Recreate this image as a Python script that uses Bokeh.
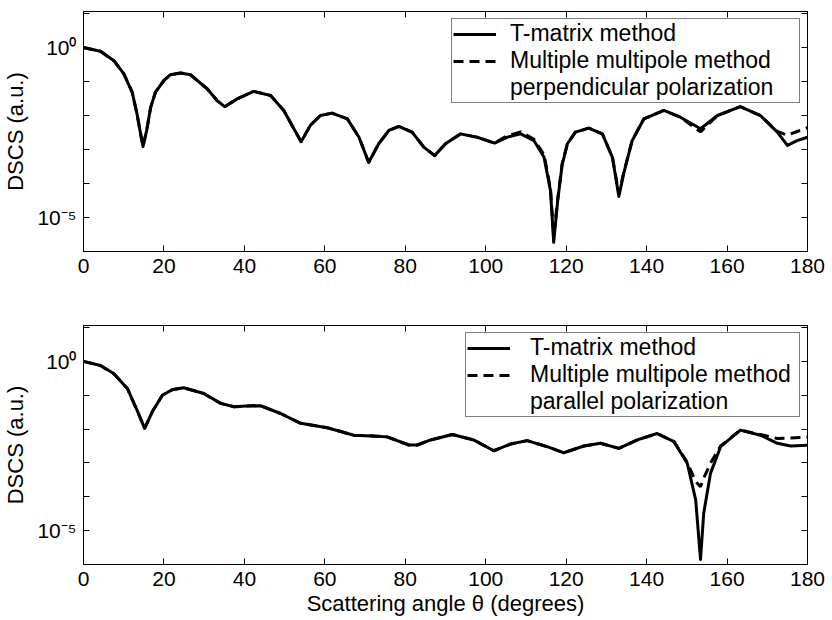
import numpy as np
from bokeh.plotting import figure
from bokeh.layouts import column
from bokeh.models import (Range1d, FixedTicker, LinearAxis, LogAxis, Legend, LegendItem,
                          CustomJSTickFormatter)
from bokeh.embed import file_html
from bokeh.resources import INLINE

# ---------------- data (angle in degrees, log10 of DSCS) ----------------
top_tm_angle = [0, 4.2, 7.5, 10.0, 12.1, 13.3, 14.2, 14.8, 15.7, 16.7, 17.9, 20.0, 21.6, 24.1,
                26.6, 27.8, 30.8, 33.2, 35.1, 38.2, 42.3, 46.5, 49.8, 52.3, 54.1, 56.4, 58.9, 61.8,
                65.6, 68.5, 70.9, 73.4, 75.9, 78.4, 81.7, 84.6, 87.3, 90.0, 93.7, 97.9, 102.2,
                105.3, 108.7, 112.0, 114.5, 116.1, 116.9, 117.9, 119.0, 120.3, 122.3, 125.6,
                129.0, 131.5, 133.1, 134.3, 136.4, 139.3, 144.3, 148.4, 153.4, 157.6, 163.3,
                168.3, 172.5, 175.0, 177.4, 180.0]
top_tm_log = [0.0, -0.11, -0.38, -0.77, -1.31, -1.95, -2.54, -2.91, -2.44, -1.76, -1.31, -0.97,
              -0.80, -0.75, -0.80, -0.92, -1.22, -1.56, -1.74, -1.51, -1.29, -1.41, -1.85, -2.39,
              -2.77, -2.29, -2.00, -1.93, -2.10, -2.64, -3.38, -2.83, -2.44, -2.32, -2.49, -2.93,
              -3.18, -2.83, -2.54, -2.64, -2.81, -2.64, -2.54, -2.74, -3.23, -4.21, -5.73, -4.50,
              -3.45, -2.83, -2.49, -2.37, -2.54, -3.23, -4.38, -3.71, -2.74, -2.10, -1.85, -2.05,
              -2.39, -2.00, -1.74, -2.00, -2.49, -2.88, -2.74, -2.64]
top_mmp_log = [0.0, -0.11, -0.38, -0.77, -1.31, -1.95, -2.54, -2.91, -2.44, -1.76, -1.31, -0.97,
               -0.80, -0.75, -0.80, -0.92, -1.22, -1.56, -1.74, -1.51, -1.29, -1.41, -1.85, -2.39,
               -2.77, -2.29, -2.00, -1.93, -2.10, -2.64, -3.38, -2.83, -2.44, -2.32, -2.49, -2.93,
               -3.18, -2.83, -2.54, -2.64, -2.81, -2.60, -2.48, -2.70, -3.15, -4.15, -5.55, -4.45,
               -3.42, -2.83, -2.49, -2.37, -2.54, -3.23, -4.30, -3.68, -2.74, -2.10, -1.85, -2.05,
               -2.48, -2.00, -1.74, -2.00, -2.47, -2.58, -2.47, -2.36]

bot_tm_angle = [0, 4.2, 7.5, 10.9, 13.3, 15.2, 17.1, 19.6, 22.0, 24.9, 29.9, 34.1, 37.4, 40.5,
                44.0, 49.0, 54.0, 60.6, 67.2, 73.0, 75.5, 80.9, 83.0, 86.3, 91.7, 97.0, 102.0,
                106.2, 110.3, 115.3, 119.4, 124.4, 128.5, 133.1, 137.7, 142.6, 146.8, 150.1,
                152.2, 153.4, 154.2, 155.9, 158.4, 163.3, 168.3, 172.5, 175.8, 180.0]
bot_tm_log = [0.0, -0.12, -0.36, -0.80, -1.44, -1.98, -1.49, -1.00, -0.84, -0.78, -0.95, -1.24,
              -1.34, -1.32, -1.31, -1.54, -1.83, -1.96, -2.18, -2.21, -2.23, -2.47, -2.47, -2.32,
              -2.16, -2.32, -2.64, -2.44, -2.34, -2.52, -2.70, -2.50, -2.42, -2.57, -2.32, -2.13,
              -2.37, -3.01, -4.09, -5.85, -4.48, -3.30, -2.52, -2.03, -2.18, -2.42, -2.50, -2.48]
bot_mmp_log = [0.0, -0.12, -0.36, -0.80, -1.44, -1.98, -1.49, -1.00, -0.84, -0.78, -0.95, -1.24,
               -1.34, -1.32, -1.31, -1.54, -1.83, -1.96, -2.18, -2.21, -2.23, -2.47, -2.47, -2.32,
               -2.16, -2.32, -2.64, -2.44, -2.34, -2.52, -2.70, -2.50, -2.42, -2.57, -2.32, -2.13,
               -2.37, -2.98, -3.55, -3.70, -3.45, -3.00, -2.50, -2.03, -2.16, -2.28, -2.26, -2.24]

x_ticks = [0, 20, 40, 60, 80, 100, 120, 140, 160, 180]
y_ticks = [1e-6, 1e-5, 1e-4, 1e-3, 1e-2, 1e-1, 1e0, 1e1]

legend_labels_top = ["T-matrix method", "Multiple multipole method", "perpendicular polarization"]
legend_labels_bot = ["T-matrix method", "Multiple multipole method", "parallel polarization"]

FONT = "Liberation Sans"

ytick_fmt = """
var e = Math.log10(tick);
if (Math.abs(e) < 1e-6) return "10\u2070";
if (Math.abs(e + 5) < 1e-6) return "10\u207b\u2075";
return " ";
"""
blank_fmt = 'return " ";'


def make_panel(angles, tm_log, mmp_log, labels, xlabel, height, border_top, border_bottom,
               label_width, label_standoff):
    p = figure(width=830, height=height, output_backend="svg", toolbar_location=None,
               y_axis_type="log", x_range=Range1d(0, 180),
               y_range=Range1d(1e-6, 10 ** 1.06),
               min_border_left=83, min_border_right=23,
               min_border_top=border_top, min_border_bottom=border_bottom)
    p.xgrid.visible = False
    p.ygrid.visible = False
    p.outline_line_color = "black"
    p.outline_line_width = 1
    p.background_fill_color = "white"
    p.border_fill_color = "white"

    ang = np.array(angles, dtype=float)
    tm = 10.0 ** np.array(tm_log)
    mmp = 10.0 ** np.array(mmp_log)

    r_tm = p.line(ang, tm, line_color="black", line_width=3, line_join="round")
    r_mmp = p.line(ang, mmp, line_color="black", line_width=3, line_dash="10 6")
    r_none = p.line(ang[:2], tm[:2], line_alpha=0)

    # main axes
    xa = p.xaxis[0]
    xa.ticker = FixedTicker(ticks=x_ticks)
    ya = p.yaxis[0]
    ya.ticker = FixedTicker(ticks=y_ticks)
    ya.formatter = CustomJSTickFormatter(code=ytick_fmt)
    for ax in (xa, ya):
        ax.major_tick_in = 6
        ax.major_tick_out = 0
        ax.minor_tick_in = 0
        ax.minor_tick_out = 0
        ax.axis_line_color = "black"
        ax.major_tick_line_color = "black"
        ax.major_label_text_font = FONT
        ax.major_label_text_font_size = "21px"
        ax.major_label_text_color = "black"
        ax.axis_label_text_font = FONT
        ax.axis_label_text_font_size = "22px"
        ax.axis_label_text_font_style = "normal"
        ax.axis_label_text_color = "black"
    xa.major_label_standoff = 7
    ya.major_label_standoff = 7
    ya.axis_label = "DSCS (a.u.)"
    ya.axis_label_standoff = 6
    if xlabel:
        xa.axis_label = xlabel
        xa.axis_label_standoff = 2

    # box ticks on top and right
    top_ax = LinearAxis(ticker=FixedTicker(ticks=x_ticks),
                        formatter=CustomJSTickFormatter(code=blank_fmt))
    right_ax = LogAxis(ticker=FixedTicker(ticks=y_ticks),
                       formatter=CustomJSTickFormatter(code=blank_fmt))
    for ax in (top_ax, right_ax):
        ax.major_tick_in = 6
        ax.major_tick_out = 0
        ax.minor_tick_in = 0
        ax.minor_tick_out = 0
        ax.major_label_text_font_size = "4px"
        ax.major_label_text_alpha = 0
        ax.major_label_standoff = 0
        ax.axis_line_color = "black"
        ax.major_tick_line_color = "black"
    p.add_layout(top_ax, "above")
    p.add_layout(right_ax, "right")

    legend = Legend(items=[LegendItem(label=labels[0], renderers=[r_tm]),
                           LegendItem(label=labels[1], renderers=[r_mmp]),
                           LegendItem(label=labels[2], renderers=[r_none])],
                    location="top_right")
    legend.label_text_font = FONT
    legend.label_text_font_size = "23px"
    legend.label_text_color = "black"
    legend.glyph_width = 43
    legend.glyph_height = 20
    legend.label_height = 20
    legend.label_width = label_width
    legend.label_standoff = label_standoff
    legend.spacing = 0
    legend.padding = 1
    legend.margin = 7
    legend.border_line_color = "black"
    legend.border_line_width = 1
    legend.background_fill_color = "white"
    legend.background_fill_alpha = 1.0
    p.add_layout(legend)
    return p


p1 = make_panel(top_tm_angle, top_tm_log, top_mmp_log, legend_labels_top, None,
                300, 11, 49, 288, 14)
p2 = make_panel(bot_tm_angle, bot_tm_log, bot_mmp_log, legend_labels_bot,
                "Scattering angle \u03b8 (degrees)", 318, 25, 54, 268, 20)

layout = column(p1, p2, spacing=0)
open("out.html", "w").write(file_html(layout, INLINE))
